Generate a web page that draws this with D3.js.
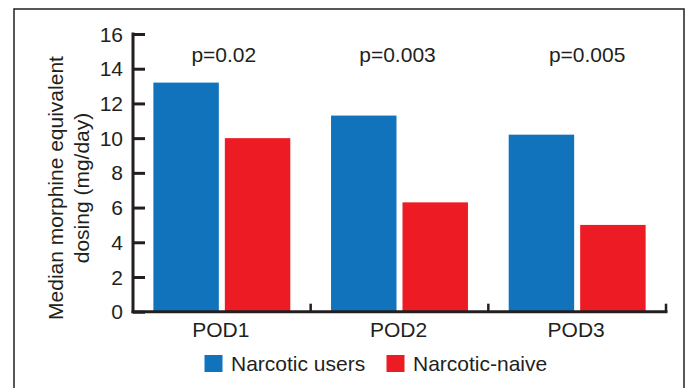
<!DOCTYPE html>
<html>
<head>
<meta charset="utf-8">
<script src="https://cdn.jsdelivr.net/npm/d3@7/dist/d3.min.js"></script>
<style>
  html, body { margin: 0; padding: 0; background: #fff; }
  svg { display: block; }
  text { font-family: "Liberation Sans", Arial, Helvetica, sans-serif; fill: #231f20; }
</style>
</head>
<body>
<svg id="chart" width="691" height="388"></svg>
<script>
const categories = ["POD1", "POD2", "POD3"];
const seriesNames = ["Narcotic users", "Narcotic-naive"];
const narcoticUsers = [13.2, 11.3, 10.2];
const narcoticNaive = [10.0, 6.3, 5.0];
const pValues = ["p=0.02", "p=0.003", "p=0.005"];
const yTicks = [0, 2, 4, 6, 8, 10, 12, 14, 16];
const colors = ["#1273bd", "#ed1c24"];
const yLabelLines = ["Median morphine equivalent", "dosing (mg/day)"];

(function () {
const svg = d3.select("#chart");
const ink = "#231f20";
const fs = "21px";

svg.append("rect")
  .attr("x", 14).attr("y", 9)
  .attr("width", 670).attr("height", 400)
  .attr("fill", "none").attr("stroke", ink).attr("stroke-width", 1.5);

const pl = 133, pr = 666, pt = 34, pb = 311.7;
const x0 = d3.scaleBand().domain(categories).range([pl, pr]).padding(0);
const x1 = d3.scaleBand().domain(seriesNames).range([0, x0.bandwidth()])
  .paddingInner(0.084).paddingOuter(0.285);
const y = d3.scaleLinear().domain([0, 16]).range([pb, pt]);

const data = categories.map((c, i) => ({ cat: c, vals: [narcoticUsers[i], narcoticNaive[i]] }));

const g = svg.append("g");
data.forEach(d => {
  d.vals.forEach((v, j) => {
    g.append("rect")
      .attr("x", x0(d.cat) + x1(seriesNames[j]))
      .attr("y", y(v))
      .attr("width", x1.bandwidth())
      .attr("height", y(0) - y(v))
      .attr("fill", colors[j]);
  });
});

const yAxis = d3.axisRight(y).tickValues(yTicks).tickSize(12).tickFormat("");
const ya = svg.append("g").attr("transform", `translate(${pl},0)`).call(yAxis);
ya.select(".domain").remove();
ya.selectAll(".tick line").attr("stroke", ink).attr("stroke-width", 3);
svg.append("line").attr("x1", pl).attr("x2", pl).attr("y1", pt - 1.5).attr("y2", pb + 1.5)
  .attr("stroke", ink).attr("stroke-width", 3);
svg.append("g").selectAll("text").data(yTicks).join("text")
  .attr("x", 123).attr("y", d => y(d)).attr("dy", "0.36em")
  .attr("text-anchor", "end").style("font-size", fs).text(d => d);

svg.append("line").attr("x1", pl - 1.5).attr("x2", pr + 1.5).attr("y1", pb).attr("y2", pb)
  .attr("stroke", ink).attr("stroke-width", 3);
const boundaries = categories.map(c => x0(c) + x0.bandwidth());
svg.append("g").selectAll("line").data(boundaries).join("line")
  .attr("x1", d => d).attr("x2", d => d).attr("y1", pb).attr("y2", pb - 8)
  .attr("stroke", ink).attr("stroke-width", 2.5);
svg.append("g").selectAll("text").data(categories).join("text")
  .attr("x", d => x0(d) + x0.bandwidth() / 2 - 1)
  .attr("y", 337).attr("text-anchor", "middle").style("font-size", fs).text(d => d);

const pDx = [2, -2, 10];
svg.append("g").selectAll("text").data(pValues).join("text")
  .attr("x", (d, i) => x0(categories[i]) + x0.bandwidth() / 2 + pDx[i])
  .attr("y", 62).attr("text-anchor", "middle").style("font-size", fs).text(d => d);

const yl = svg.append("text")
  .attr("transform", "translate(0,188) rotate(-90)")
  .attr("text-anchor", "middle").style("font-size", fs);
yLabelLines.forEach((t, i) => {
  yl.append("tspan").attr("x", 0).attr("y", i === 0 ? 63 : 89).text(t);
});

const legX = [204.5, 386.5];
seriesNames.forEach((s, i) => {
  svg.append("rect").attr("x", legX[i]).attr("y", 355).attr("width", 18).attr("height", 17)
    .attr("fill", colors[i]);
  svg.append("text").attr("x", legX[i] + 26.5).attr("y", 371).style("font-size", fs).text(s);
});
})();
</script>
</body>
</html>
